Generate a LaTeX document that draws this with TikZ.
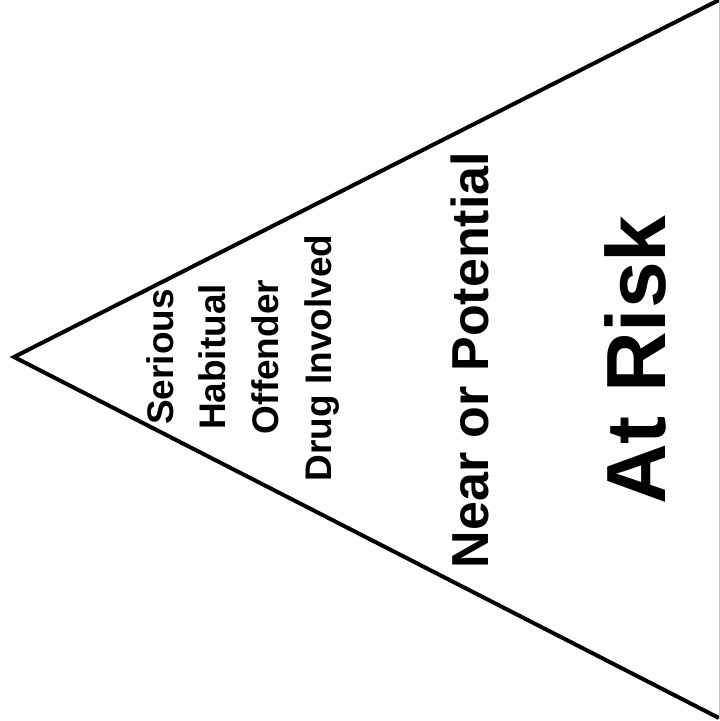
\documentclass[tikz,border=0pt]{standalone}
\usepackage{fontspec}
\setmainfont{Liberation Sans}
\usepackage{tikz}
\usetikzlibrary{positioning}

\begin{document}
\begin{tikzpicture}[x=1pt, y=1pt,
    tier/.style={rotate=90, anchor=base, inner sep=0pt, font=\bfseries\fontsize{37}{40}\selectfont},
    band/.style={rotate=90, anchor=base, inner sep=0pt, font=\bfseries\fontsize{52}{56}\selectfont},
    base/.style={rotate=90, anchor=base, inner sep=0pt, font=\bfseries\fontsize{84}{90}\selectfont}]
    \useasboundingbox[fill=white] (0,0) rectangle (720,721);

    % Pyramid outline
    \coordinate (apex) at (14,364);
    \coordinate (top) at (721,722);
    \coordinate (bottom) at (719,3);
    \draw[line width=4pt, line join=miter] (top) -- (apex) -- (bottom);
    \draw[gray!45, line width=1pt] (719,721) -- (719,2);

    % Top of the pyramid
    \node[tier] (serious) at (173,364) {Serious};
    \node[tier] (habitual) at (225,364) {Habitual};
    \node[tier] (offender) at (278,364) {Offender};
    \node[tier] (drug) at (331,363) {Drug Involved};

    % Middle band
    \node[band] (near) at (488,361) {Near or Potential};

    % Base
    \node[base] (risk) at (665,361) {At Risk};
\end{tikzpicture}
\end{document}
